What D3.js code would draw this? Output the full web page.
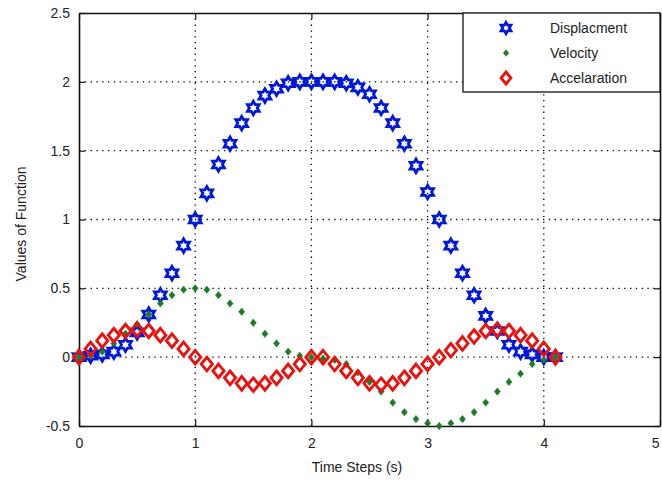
<!DOCTYPE html>
<html>
<head>
<meta charset="utf-8">
<script src="https://cdn.jsdelivr.net/npm/d3@7"></script>
<style>
  body { margin: 0; background: #fff; }
  text { font-family: "Liberation Sans", Arial, sans-serif; fill: #222; }
</style>
</head>
<body>
<div id="chart"></div>
<script>
var w = 662, h = 481;
var margin = {left: 79, top: 13, right: 2, bottom: 55};

// time steps 0 .. 4.1
var timeSteps = [0,0.1,0.2,0.3,0.4,0.5,0.6,0.7,0.8,0.9,1.0,1.1,1.2,1.3,1.4,1.5,1.6,1.7,1.8,1.9,2.0,
                 2.1,2.2,2.3,2.4,2.5,2.6,2.7,2.8,2.9,3.0,3.1,3.2,3.3,3.4,3.5,3.6,3.7,3.8,3.9,4.0,4.1];
var displacement = [0,0.01,0.02,0.04,0.09,0.18,0.31,0.45,0.61,0.81,1.0,1.19,1.4,1.55,1.7,1.81,1.9,1.95,1.99,2.0,2.0,
                    2.0,2.0,1.99,1.96,1.91,1.81,1.7,1.55,1.39,1.2,1.0,0.81,0.61,0.45,0.3,0.19,0.09,0.04,0.02,0.0,0.0];
var velocity = [0,0.01,0.04,0.1,0.17,0.24,0.31,0.39,0.45,0.49,0.5,0.49,0.45,0.39,0.33,0.25,0.17,0.1,0.04,0.01,0,
                -0.01,-0.02,-0.05,-0.11,-0.18,-0.25,-0.33,-0.4,-0.45,-0.48,-0.5,-0.48,-0.45,-0.4,-0.33,-0.25,-0.18,-0.12,-0.05,-0.02,0];
var acceleration = [0,0.06,0.12,0.16,0.19,0.2,0.19,0.16,0.12,0.06,0,-0.05,-0.1,-0.15,-0.19,-0.2,-0.19,-0.15,-0.1,-0.05,0,
                    0,-0.05,-0.1,-0.15,-0.19,-0.2,-0.19,-0.15,-0.1,-0.05,0,0.05,0.1,0.15,0.19,0.2,0.19,0.16,0.12,0.06,0];

var xTicks = [0,1,2,3,4,5];
var yTicks = [-0.5,0,0.5,1,1.5,2,2.5];
var seriesNames = ["Displacment", "Velocity", "Accelaration"];

var xScale = d3.scaleLinear().domain([0,5]).range([margin.left, 660]);
var yScale = d3.scaleLinear().domain([-0.5,2.5]).range([426, margin.top]);

//matlab style labels: plain hyphen, no trailing zeros
var fmt = function(d) { return String(d); };

//custom marker shapes (matlab style)
var hexagram = {
  draw: function(ctx, size) {
    var r = Math.sqrt(size), ri = r * 0.577;
    for (var i = 0; i < 12; i++) {
      var a = Math.PI / 6 * i - Math.PI / 2;
      var rr = (i % 2 == 0) ? r : ri;
      if (i == 0) ctx.moveTo(rr*Math.cos(a), rr*Math.sin(a));
      else ctx.lineTo(rr*Math.cos(a), rr*Math.sin(a));
    }
    ctx.closePath();
  }
};
var diamond = {
  draw: function(ctx, size) {
    var r = Math.sqrt(size);
    ctx.moveTo(0, -r*1.1);
    ctx.lineTo(r*0.9, 0);
    ctx.lineTo(0, r*1.1);
    ctx.lineTo(-r*0.9, 0);
    ctx.closePath();
  }
};

var svg = d3.select("#chart").append("svg")
  .attr("width", w).attr("height", h);

//grid
var grid = svg.append("g").attr("stroke", "#000").attr("stroke-width", 1.3)
  .attr("stroke-dasharray", "1.3,4.5");
grid.selectAll(".vg").data(xTicks.slice(1, -1)).enter().append("line")
  .attr("x1", function(d) { return xScale(d); }).attr("x2", function(d) { return xScale(d); })
  .attr("y1", yScale(2.5)).attr("y2", yScale(-0.5));
grid.selectAll(".hg").data(yTicks.slice(1, -1)).enter().append("line")
  .attr("y1", function(d) { return yScale(d); }).attr("y2", function(d) { return yScale(d); })
  .attr("x1", xScale(0)).attr("x2", xScale(5));

//axes
var xAxis = d3.axisBottom(xScale).tickValues(xTicks).tickSizeInner(-6).tickSizeOuter(0).tickPadding(12).tickFormat(fmt);
var yAxis = d3.axisLeft(yScale).tickValues(yTicks).tickSizeInner(-6).tickSizeOuter(0).tickPadding(9).tickFormat(fmt);
var xAxisTop = d3.axisTop(xScale).tickValues(xTicks).tickSizeInner(-6).tickSizeOuter(0).tickFormat("");
var yAxisRight = d3.axisRight(yScale).tickValues(yTicks).tickSizeInner(-6).tickSizeOuter(0).tickFormat("");

function styleAxis(g) {
  g.select(".domain").attr("stroke", "#111").attr("stroke-width", 1.6);
  g.selectAll(".tick line").attr("stroke", "#111").attr("stroke-width", 1.2);
  g.selectAll("text").attr("font-size", "14px").attr("fill", "#222")
    .attr("font-family", "Liberation Sans, Arial, sans-serif");
}

var gx = svg.append("g").attr("transform", "translate(0," + yScale(-0.5) + ")").call(xAxis).call(styleAxis);
//last label sits on the picture edge; keep it inside
gx.selectAll(".tick text").filter(function(d) { return d == 5; })
  .attr("text-anchor", "end").attr("dx", "-1");
svg.append("g").attr("transform", "translate(" + xScale(0) + ",0)").call(yAxis).call(styleAxis);
svg.append("g").attr("transform", "translate(0," + yScale(2.5) + ")").call(xAxisTop).call(styleAxis);
svg.append("g").attr("transform", "translate(" + xScale(5) + ",0)").call(yAxisRight).call(styleAxis);

//axis labels
svg.append("text").text("Time Steps (s)")
  .attr("x", 357).attr("y", 472).attr("text-anchor", "middle").attr("font-size", "14px");
svg.append("text").text("Values of Function")
  .attr("transform", "translate(26,224) rotate(-90)").attr("text-anchor", "middle").attr("font-size", "14px");

//plot data
svg.append("g").selectAll("path").data(timeSteps).enter().append("path")
  .attr("transform", function(d, i) { return "translate(" + xScale(d) + "," + yScale(displacement[i]) + ")"; })
  .attr("d", d3.symbol().type(hexagram).size(46)())
  .attr("fill", "none").attr("stroke", "#0018d8").attr("stroke-width", 2.8);

svg.append("g").selectAll("path").data(timeSteps).enter().append("path")
  .attr("transform", function(d, i) { return "translate(" + xScale(d) + "," + yScale(velocity[i]) + ")"; })
  .attr("d", d3.symbol().type(diamond).size(11)())
  .attr("fill", "#1f7a25").attr("stroke", "#1f7a25").attr("stroke-width", 0.6);

svg.append("g").selectAll("path").data(timeSteps).enter().append("path")
  .attr("transform", function(d, i) { return "translate(" + xScale(d) + "," + yScale(acceleration[i]) + ")"; })
  .attr("d", d3.symbol().type(diamond).size(38)())
  .attr("fill", "none").attr("stroke", "#e8130f").attr("stroke-width", 2.9);

//Legend
var leg = svg.append("g");
leg.append("rect").attr("x", 463).attr("y", 13).attr("width", 197).attr("height", 79)
  .attr("fill", "#fff").attr("stroke", "#111").attr("stroke-width", 1.3);
var legY = [28, 53, 78];
leg.append("path").attr("transform", "translate(506," + legY[0] + ")")
  .attr("d", d3.symbol().type(hexagram).size(32)())
  .attr("fill", "none").attr("stroke", "#0018d8").attr("stroke-width", 2.8);
leg.append("path").attr("transform", "translate(506," + legY[1] + ")")
  .attr("d", d3.symbol().type(diamond).size(9)())
  .attr("fill", "#1f7a25").attr("stroke", "#1f7a25").attr("stroke-width", 0.6);
leg.append("path").attr("transform", "translate(506," + legY[2] + ")")
  .attr("d", d3.symbol().type(diamond).size(30)())
  .attr("fill", "none").attr("stroke", "#e8130f").attr("stroke-width", 2.9);
leg.selectAll("text.lg").data(seriesNames).enter().append("text")
  .text(function(d) { return d; })
  .attr("x", 550).attr("y", function(d, i) { return legY[i] + 5; })
  .attr("font-size", "14px");
</script>
</body>
</html>
